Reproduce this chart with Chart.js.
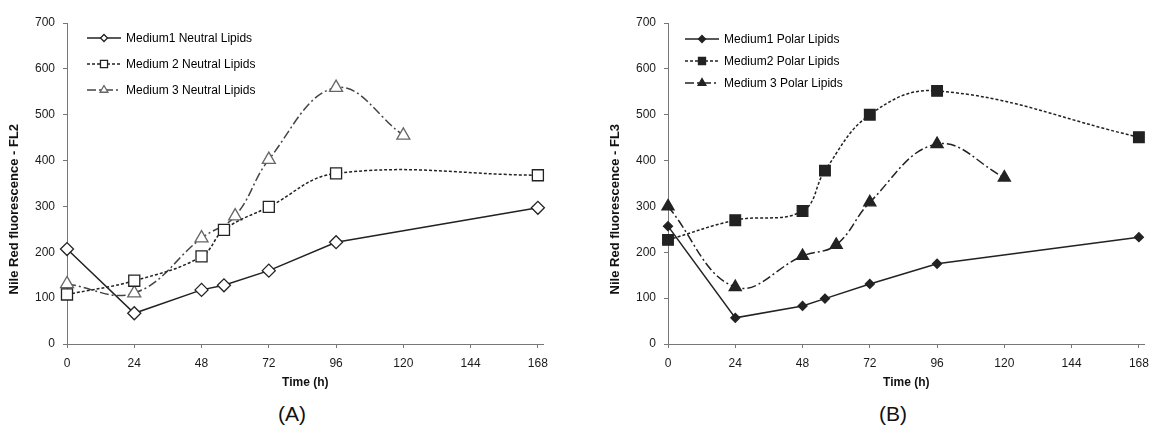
<!DOCTYPE html>
<html>
<head>
<meta charset="utf-8">
<script src="https://cdn.jsdelivr.net/npm/chart.js@4.4.1/dist/chart.umd.min.js"></script>
<style>
  body { margin:0; background:#fff; width:1152px; height:425px; position:relative; overflow:hidden;
         font-family:"Liberation Sans", Arial, sans-serif; }
  canvas { position:absolute; top:0; }
  #chartA { left:0; }
  #chartB { left:601px; }
  .caption { position:absolute; top:402px; width:80px; margin-left:-40px; text-align:center;
             font-size:21px; line-height:24px; color:#111; }
</style>
</head>
<body>
<canvas id="chartA" width="556" height="400"></canvas>
<canvas id="chartB" width="556" height="400"></canvas>
<div class="caption" style="left:292px">(A)</div>
<div class="caption" style="left:893px">(B)</div>
<script>
const timeTicks  = [0, 24, 48, 72, 96, 120, 144, 168];
const valueTicks = [0, 100, 200, 300, 400, 500, 600, 700];

// (A) neutral lipids, FL2
const neutralTimes1  = [0, 24, 48, 56, 72, 96, 168];
const neutralValues1 = [207, 67, 118, 128, 160, 222, 297];
const neutralTimes2  = [0, 24, 48, 56, 72, 96, 168];
const neutralValues2 = [108, 138, 191, 249, 299, 372, 368];
const neutralTimes3  = [0, 24, 48, 60, 72, 96, 120];
const neutralValues3 = [131, 111, 231, 279, 402, 559, 455];

// (B) polar lipids, FL3
const polarTimes1  = [0, 24, 48, 56, 72, 96, 168];
const polarValues1 = [257, 57, 83, 99, 131, 175, 233];
const polarTimes2  = [0, 24, 48, 56, 72, 96, 168];
const polarValues2 = [227, 270, 290, 378, 500, 552, 451];
const polarTimes3  = [0, 24, 48, 60, 72, 96, 120];
const polarValues3 = [300, 124, 192, 216, 309, 436, 363];

const FONT = '"Liberation Sans", Arial, sans-serif';
const INK  = '#222';

const toPoints = (xs, ys) => xs.map((x, i) => ({ x, y: ys[i] }));

function drawMarker(ctx, style, x, y, r, fill, stroke, lw) {
  ctx.beginPath();
  if (style === 'rectRot') {
    ctx.moveTo(x, y - r); ctx.lineTo(x + r, y); ctx.lineTo(x, y + r); ctx.lineTo(x - r, y);
  } else if (style === 'rect') {
    const s = r * Math.SQRT1_2;
    ctx.rect(x - s, y - s, 2 * s, 2 * s);
  } else {
    ctx.moveTo(x, y - r);
    ctx.lineTo(x + 0.866 * r, y + 0.5 * r);
    ctx.lineTo(x - 0.866 * r, y + 0.5 * r);
  }
  ctx.closePath();
  ctx.fillStyle = fill;
  ctx.fill();
  ctx.lineWidth = lw;
  ctx.strokeStyle = stroke;
  ctx.stroke();
}

// legend drawn inside the plot, upper left
const insideLegend = {
  id: 'insideLegend',
  afterDraw(chart, args, opts) {
    const { ctx, chartArea } = chart;
    chart.data.datasets.forEach((ds, i) => {
      const y  = opts.top + i * opts.gap;
      const x0 = chartArea.left + opts.left;
      const x1 = x0 + 34;
      ctx.save();
      ctx.strokeStyle = ds.borderColor;
      ctx.lineWidth = ds.borderWidth;
      ctx.setLineDash(ds.borderDash || []);
      ctx.beginPath();
      ctx.moveTo(x0, y);
      ctx.lineTo(x1, y);
      ctx.stroke();
      ctx.setLineDash([]);
      drawMarker(ctx, ds.pointStyle, (x0 + x1) / 2, y, ds.legendRadius,
                 ds.pointBackgroundColor, ds.pointBorderColor, ds.pointBorderWidth);
      ctx.font = '12px ' + FONT;
      ctx.fillStyle = '#000';
      ctx.textBaseline = 'middle';
      ctx.fillText(ds.label, x1 + 5, y + 1);
      ctx.restore();
    });
  }
};

// y title sits a bit below the axis middle in the original
const sideTitle = {
  id: 'sideTitle',
  afterDraw(chart, args, opts) {
    const { ctx, chartArea } = chart;
    ctx.save();
    ctx.translate(chartArea.left - opts.gap, chartArea.top + (chartArea.bottom - chartArea.top) * opts.at);
    ctx.rotate(-Math.PI / 2);
    ctx.font = 'bold 13px ' + FONT;
    ctx.fillStyle = '#111';
    ctx.textAlign = 'center';
    ctx.textBaseline = 'middle';
    ctx.fillText(opts.text, 0, 0);
    ctx.restore();
  }
};

function series(label, xs, ys, o) {
  return {
    label,
    data: toPoints(xs, ys),
    borderColor: o.color || INK,
    borderWidth: 1.5,
    borderDash: o.dash || [],
    tension: o.tension || 0,
    pointStyle: o.style,
    pointRadius: o.radius,
    legendRadius: o.legendRadius,
    pointBackgroundColor: o.fill,
    pointBorderColor: o.markerColor || INK,
    pointBorderWidth: 1.3,
    clip: false
  };
}

function makeChart(id, datasets, yTitle, legend) {
  const axisColor = '#777';
  new Chart(document.getElementById(id), {
    type: 'line',
    data: { datasets },
    plugins: [insideLegend, sideTitle],
    options: {
      responsive: false,
      animation: false,
      layout: { padding: { top: 23, right: 7, bottom: 0, left: 0 } },
      plugins: {
        legend: { display: false },
        tooltip: { enabled: false },
        insideLegend: legend,
        sideTitle: { text: yTitle, gap: 52.5, at: 0.58 }
      },
      scales: {
        x: {
          type: 'linear',
          min: 0,
          max: 170,
          afterBuildTicks: s => { s.ticks = timeTicks.map(v => ({ value: v })); },
          afterFit: s => { s.height = 56; },
          grid: { drawOnChartArea: false, drawTicks: true, tickLength: 4, color: axisColor },
          border: { color: axisColor, width: 1 },
          ticks: { color: '#1a1a1a', font: { family: FONT, size: 12 }, padding: 8, maxRotation: 0 },
          title: { display: true, text: 'Time (h)', color: '#111',
                   font: { family: FONT, size: 12, weight: 'bold' }, padding: { top: 0, bottom: 10 } }
        },
        y: {
          min: 0,
          max: 700,
          afterBuildTicks: s => { s.ticks = valueTicks.map(v => ({ value: v })); },
          afterFit: s => { s.width = 67; },
          grid: { drawOnChartArea: false, drawTicks: true, tickLength: 4, color: axisColor },
          border: { color: axisColor, width: 1 },
          ticks: { color: '#1a1a1a', font: { family: FONT, size: 12 }, padding: 8 }
        }
      }
    }
  });
}

makeChart('chartA', [
  series('Medium1 Neutral Lipids', neutralTimes1, neutralValues1,
         { style: 'rectRot', radius: 6.5, legendRadius: 3.5, fill: '#fff' }),
  series('Medium 2 Neutral Lipids', neutralTimes2, neutralValues2,
         { style: 'rect', radius: 7.8, legendRadius: 5, fill: '#fff', dash: [3, 2], tension: 0.4 }),
  series('Medium 3 Neutral Lipids', neutralTimes3, neutralValues3,
         { style: 'triangle', radius: 7.5, legendRadius: 4.5, fill: '#fff', dash: [9, 3, 2, 3],
           tension: 0.4, color: '#444', markerColor: '#666' })
], 'Nile Red fluorescence - FL2', { left: 20, top: 38, gap: 26 });

makeChart('chartB', [
  series('Medium1 Polar Lipids', polarTimes1, polarValues1,
         { style: 'rectRot', radius: 4.5, legendRadius: 3.5, fill: INK }),
  series('Medium2 Polar Lipids', polarTimes2, polarValues2,
         { style: 'rect', radius: 7.5, legendRadius: 5, fill: INK, dash: [3, 2], tension: 0.4 }),
  series('Medium 3 Polar Lipids', polarTimes3, polarValues3,
         { style: 'triangle', radius: 7, legendRadius: 4.5, fill: INK, dash: [9, 3, 2, 3], tension: 0.4 })
], 'Nile Red fluorescence - FL3', { left: 17, top: 39, gap: 22 });
</script>
</body>
</html>
